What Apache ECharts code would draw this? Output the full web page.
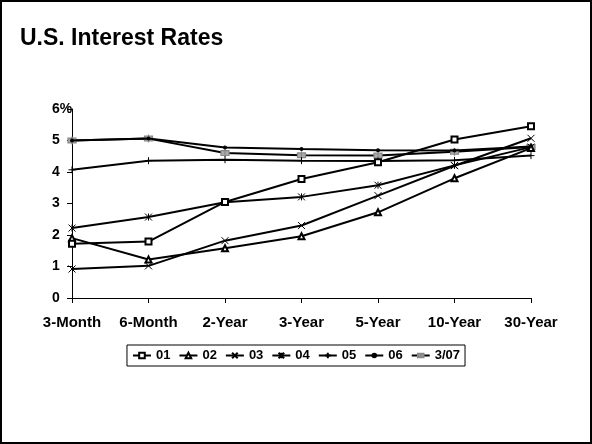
<!DOCTYPE html>
<html><head><meta charset="utf-8">
<script src="https://cdn.jsdelivr.net/npm/echarts@6/dist/echarts.min.js"></script>
<style>html,body{margin:0;padding:0;background:#fff}#c{width:592px;height:444px}</style>
</head><body><div id="c"></div>
<script>
const categories = ['3-Month','6-Month','2-Year','3-Year','5-Year','10-Year','30-Year'];
const seriesNames = ['01','02','03','04','05','06','3/07'];
const s01 = [1.72, 1.79, 3.05, 3.78, 4.31, 5.03, 5.45];
const s02 = [1.90, 1.22, 1.58, 1.96, 2.72, 3.80, 4.76];
const s03 = [0.92, 1.02, 1.82, 2.30, 3.25, 4.20, 5.07];
const s04 = [2.22, 2.57, 3.04, 3.21, 3.58, 4.21, 4.79];
const s05 = [4.07, 4.36, 4.39, 4.36, 4.35, 4.37, 4.52];
const s06 = [5.00, 5.06, 4.78, 4.73, 4.69, 4.68, 4.81];
const s307 = [5.00, 5.06, 4.60, 4.53, 4.52, 4.64, 4.79];
const yTicks = ['0','1','2','3','4','5','6%'];

const symbols = [
  'emptyRect',
  'emptyTriangle',
  'path://M0,0L10,10M10,0L0,10',
  'path://M0,0L10,10M10,0L0,10M5,0L5,10',
  'path://M5,0L5,10M0,5L10,5',
  'circle',
  'path://M1,2L9,2L9,8L1,8ZM5,0L5,10'
];
const sizes = [6,6,7,7,7,4,8];
const data = [s01,s02,s03,s04,s05,s06,s307];
const FONT = 'Liberation Sans, Arial';

const series = data.map((d,i)=>({
  name: seriesNames[i], type:'line', data:d,
  symbol: symbols[i], symbolSize: sizes[i], showAllSymbol:true,
  lineStyle:{color:'#000', width:2},
  itemStyle: i===6 ? {color:'#aaa', borderColor:'#888', borderWidth:1.2}
            : (i===5 ? {color:'#000'} : {color: (i<2?'#000':'#fff'), borderColor:'#000', borderWidth:1}),
  emphasis:{disabled:true}, animation:false, z: 10-i
}));

const chart = echarts.init(document.getElementById('c'), null, {renderer:'canvas'});
chart.setOption({
  animation:false,
  backgroundColor:'#fff',
  title:{text:'U.S. Interest Rates', left:15, top:22,
    textStyle:{fontFamily:FONT, fontWeight:'bold', fontSize:23, color:'#000'}},
  graphic:[{type:'rect', shape:{x:1,y:1,width:590,height:442}, style:{fill:'none', stroke:'#000', lineWidth:2}}],
  grid:{left:72, right:61, top:109, bottom:146, containLabel:false},
  legend:{data:seriesNames, left:'center', top:345, orient:'horizontal',
    borderColor:'#000', borderWidth:1, padding:[4,5,4,5], itemGap:8, itemWidth:18, itemHeight:7,
    textStyle:{fontFamily:FONT, fontWeight:'bold', fontSize:13, color:'#000'}},
  xAxis:{type:'category', data:categories, boundaryGap:false,
    axisLine:{lineStyle:{color:'#000', width:1}},
    axisTick:{alignWithLabel:true, length:5, lineStyle:{color:'#000'}},
    axisLabel:{margin:17, fontFamily:FONT, fontWeight:'bold', fontSize:15, color:'#000'},
    splitLine:{show:false}},
  yAxis:{type:'value', min:0, max:6, interval:1,
    axisLine:{show:true, lineStyle:{color:'#000', width:1}},
    axisTick:{show:true, length:5, lineStyle:{color:'#000'}},
    axisLabel:{margin:20, align:'left', fontFamily:FONT, fontWeight:'bold', fontSize:14, color:'#000',
      formatter:(v)=>yTicks[Math.round(v)]},
    splitLine:{show:false}},
  series: series
});
</script></body></html>
